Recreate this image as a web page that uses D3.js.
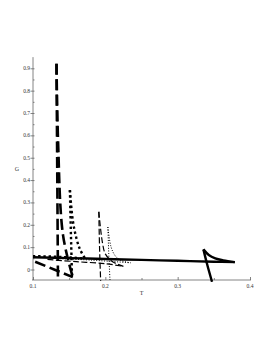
<!DOCTYPE html>
<html>
<head>
<meta charset="utf-8">
<script src="https://cdn.jsdelivr.net/npm/d3@7"></script>
<style>
  body { margin: 0; background: #fff; }
  text { font-family: "Liberation Serif", serif; }
</style>
</head>
<body>
<div id="chart"></div>
<script>
// tick values
var xTicks = [0.1, 0.2, 0.3, 0.4];
var xMinor = [0.15, 0.25, 0.35];
var yTicks = [0, 0.1, 0.2, 0.3, 0.4, 0.5, 0.6, 0.7, 0.8, 0.9];
var yMinor = [0.05, 0.15, 0.25, 0.35, 0.45, 0.55, 0.65, 0.75, 0.85];

// solid curve (T, G)
var solidMain = [[0.1, 0.055], [0.15, 0.051], [0.2, 0.047], [0.25, 0.043], [0.3, 0.039], [0.35, 0.035], [0.379, 0.033]];
var solidTail = [[0.379, 0.033], [0.363, 0.041], [0.352, 0.05], [0.343, 0.065], [0.3356, 0.09]];
var solidLarge = [[0.3356, 0.09], [0.341, 0.02], [0.3475, -0.055]];

// long dash curve (mid and large branches both start at the upper cusp)
var aLower = [[0.103, 0.035], [0.13, -0.001], [0.155, -0.034]];
var aMid = [[0.1325, 0.92], [0.1346, 0.58], [0.1415, 0.154], [0.155, -0.034]];
var aLarge = [[0.1325, 0.92], [0.1335, 0.45], [0.1345, -0.05]];

// thick dotted curve
var bLower = [[0.1, 0.06], [0.14, 0.056], [0.172, 0.049]];
var bMid = [[0.151, 0.355], [0.155, 0.22], [0.16, 0.14], [0.165, 0.09], [0.172, 0.049]];
var bLarge = [[0.151, 0.355], [0.1525, 0.15], [0.154, -0.04]];

// thin dash curve
var cLower = [[0.12, 0.045], [0.16, 0.035], [0.2, 0.026], [0.225, 0.014]];
var cMid = [[0.191, 0.258], [0.196, 0.12], [0.2, 0.07], [0.21, 0.035], [0.225, 0.014]];
var cLarge = [[0.191, 0.258], [0.192, 0.1], [0.1935, -0.05]];

// thin dotted curve
var dLower = [[0.13, 0.05], [0.18, 0.042], [0.235, 0.03]];
var dMid = [[0.2035, 0.19], [0.208, 0.1], [0.214, 0.06], [0.222, 0.04], [0.235, 0.03]];
var dLarge = [[0.2035, 0.19], [0.205, 0.05], [0.2065, -0.05]];

var width = 273, height = 353;

var svg = d3.select("#chart")
  .append("svg")
  .attr("width", width)
  .attr("height", height);

var x = d3.scaleLinear().domain([0.1, 0.4]).range([33, 250]);
var y = d3.scaleLinear().domain([0, 0.9]).range([269.5, 68.3]);

var yBottom = -0.047, yTop = 0.95;

// clip the curves to the plot box
svg.append("clipPath")
  .attr("id", "plot")
  .append("rect")
  .attr("x", x(0.1) - 2)
  .attr("y", y(yTop))
  .attr("width", x(0.4) - x(0.1) + 4)
  .attr("height", y(yBottom) - y(yTop) + 2);

// x axis
var xAxis = svg.append("g")
  .attr("transform", "translate(0," + y(yBottom) + ")");
xAxis.call(d3.axisTop(x).tickValues(xTicks).tickSize(3).tickFormat(""));
xAxis.append("g").call(d3.axisTop(x).tickValues(xMinor).tickSize(2).tickFormat(""));
xAxis.selectAll(".domain").remove();
xAxis.append("line")
  .attr("x1", x(0.1) - 1).attr("x2", x(0.4) + 1)
  .attr("stroke", "#666").attr("stroke-width", 0.8);
xAxis.selectAll(".tick line").attr("stroke", "#666").attr("stroke-width", 0.8);
xAxis.selectAll(".xlab")
  .data(xTicks)
  .enter().append("text")
  .attr("x", function (d) { return x(d); })
  .attr("y", 8)
  .attr("text-anchor", "middle")
  .style("font-size", "5.5px")
  .attr("fill", "#333")
  .text(function (d) { return d; });

// y axis
var yAxis = svg.append("g")
  .attr("transform", "translate(" + x(0.1) + ",0)");
yAxis.call(d3.axisLeft(y).tickValues(yTicks).tickSize(2.5).tickFormat(""));
yAxis.append("g").call(d3.axisRight(y).tickValues(yMinor).tickSize(1.5).tickFormat(""));
yAxis.append("g").call(d3.axisRight(y).tickValues(yTicks).tickSize(1.5).tickFormat(""));
yAxis.selectAll(".domain").remove();
yAxis.append("line")
  .attr("y1", y(yBottom)).attr("y2", y(yTop))
  .attr("stroke", "#666").attr("stroke-width", 0.8);
yAxis.selectAll(".tick line").attr("stroke", "#666").attr("stroke-width", 0.8);
yAxis.selectAll(".ylab")
  .data(yTicks)
  .enter().append("text")
  .attr("x", -3)
  .attr("y", function (d) { return y(d) + 2; })
  .attr("text-anchor", "end")
  .style("font-size", "5.5px")
  .attr("fill", "#333")
  .text(function (d) { return d; });

// axis titles
svg.append("text")
  .attr("x", x(0.25))
  .attr("y", 295)
  .attr("text-anchor", "middle")
  .style("font-size", "6px")
  .attr("fill", "#333")
  .text("T");
svg.append("text")
  .attr("x", 17)
  .attr("y", 171)
  .attr("text-anchor", "middle")
  .style("font-size", "6px")
  .attr("fill", "#333")
  .text("G");

// curves
var line = d3.line()
  .x(function (d) { return x(d[0]); })
  .y(function (d) { return y(d[1]); })
  .curve(d3.curveCatmullRom);

var styles = [
  { parts: [dLower, dMid, dLarge], w: 1, dash: "1,1.6" },
  { parts: [cLower, cMid, cLarge], w: 1.2, dash: "6,2.5" },
  { parts: [bLower, bMid, bLarge], w: 2.4, dash: "2.4,2.8" },
  { parts: [aLower, aMid, aLarge], w: 2.6, dash: "11,4.5" },
  { parts: [solidMain, solidTail, solidLarge], w: 2.4, dash: null }
];

var plot = svg.append("g").attr("clip-path", "url(#plot)");
styles.forEach(function (s) {
  s.parts.forEach(function (p) {
    plot.append("path")
      .attr("d", line(p))
      .attr("fill", "none")
      .attr("stroke", "#000")
      .attr("stroke-width", s.w)
      .attr("stroke-dasharray", s.dash)
      .attr("stroke-linecap", "butt")
      .attr("stroke-linejoin", "round");
  });
});
</script>
</body>
</html>
